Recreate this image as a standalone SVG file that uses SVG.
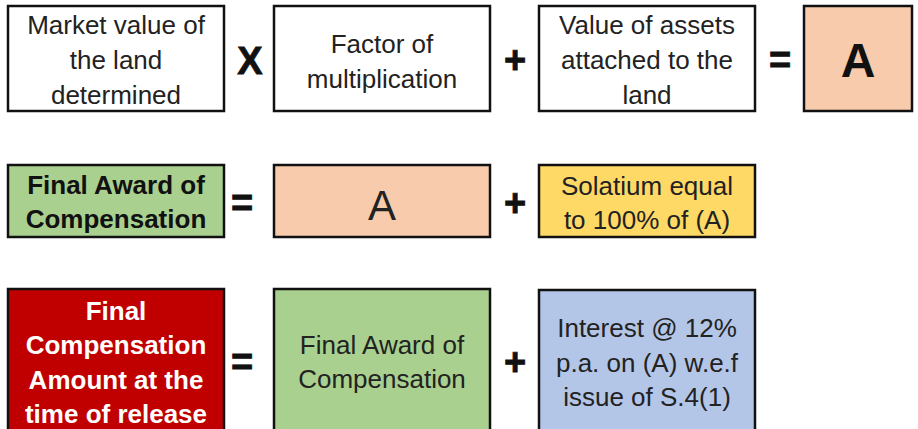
<svg xmlns="http://www.w3.org/2000/svg" width="918" height="429" viewBox="0 0 918 429">
  <style>
    .box { stroke: #111; stroke-width: 2.5; }
    .t { font-family: "Liberation Sans", Arial, sans-serif; font-size: 26px; text-anchor: middle; fill: #222; }
    .b { font-weight: bold; fill: #111; }
    .w { fill: #fff; }
    .op { font-family: "Liberation Sans", Arial, sans-serif; font-weight: bold; font-size: 38px; text-anchor: middle; fill: #111; stroke: #111; stroke-width: 0.8; }
  </style>
  <rect width="918" height="429" fill="#fff"/>

  <g id="market-value">
    <rect class="box" x="8" y="6" width="216" height="105" fill="#fff"/>
    <text class="t" x="116" y="34">Market value of</text>
    <text class="t" x="116" y="69">the land</text>
    <text class="t" x="116" y="104">determined</text>
  </g>
  <g id="factor">
    <rect class="box" x="274" y="6" width="216" height="105" fill="#fff"/>
    <text class="t" x="382" y="53">Factor of</text>
    <text class="t" x="382" y="88">multiplication</text>
  </g>
  <g id="assets">
    <rect class="box" x="539" y="6" width="216" height="105" fill="#fff"/>
    <text class="t" x="647" y="34">Value of assets</text>
    <text class="t" x="647" y="69">attached to the</text>
    <text class="t" x="647" y="104">land</text>
  </g>
  <g id="a-result">
    <rect class="box" x="804" y="6" width="108" height="105" fill="#F8CBAD"/>
    <text class="t b" x="858" y="77" style="font-size:48px">A</text>
  </g>

  <g id="final-award">
    <rect class="box" x="8" y="165" width="216" height="72" fill="#A9D08E"/>
    <text class="t b" x="116" y="194">Final Award of</text>
    <text class="t b" x="116" y="228">Compensation</text>
  </g>
  <g id="a-value">
    <rect class="box" x="274" y="165" width="216" height="72" fill="#F8CBAD"/>
    <text class="t" x="382" y="220" style="font-size:42px">A</text>
  </g>
  <g id="solatium">
    <rect class="box" x="539" y="165" width="216" height="72" fill="#FFD966"/>
    <text class="t" x="647" y="195">Solatium equal</text>
    <text class="t" x="647" y="229">to 100% of (A)</text>
  </g>

  <g id="final-amount">
    <rect class="box" x="8" y="289" width="216" height="145" fill="#C00000"/>
    <text class="t b w" x="116" y="320">Final</text>
    <text class="t b w" x="116" y="354">Compensation</text>
    <text class="t b w" x="116" y="389">Amount at the</text>
    <text class="t b w" x="116" y="423">time of release</text>
  </g>
  <g id="final-award-2">
    <rect class="box" x="274" y="289" width="216" height="145" fill="#A9D08E"/>
    <text class="t" x="382" y="354">Final Award of</text>
    <text class="t" x="382" y="388">Compensation</text>
  </g>
  <g id="interest">
    <rect class="box" x="539" y="290" width="216" height="144" fill="#B4C6E7"/>
    <text class="t" x="647" y="337">Interest @ 12%</text>
    <text class="t" x="647" y="372">p.a. on (A) w.e.f</text>
    <text class="t" x="647" y="406">issue of S.4(1)</text>
  </g>

  <g id="connectors">
    <text class="op" x="250" y="74">X</text>
    <text class="op" x="515" y="73">+</text>
    <text class="op" x="780" y="73">=</text>
    <text class="op" x="242" y="216">=</text>
    <text class="op" x="515" y="216">+</text>
    <text class="op" x="242" y="375">=</text>
    <text class="op" x="515" y="375">+</text>
  </g>
</svg>
